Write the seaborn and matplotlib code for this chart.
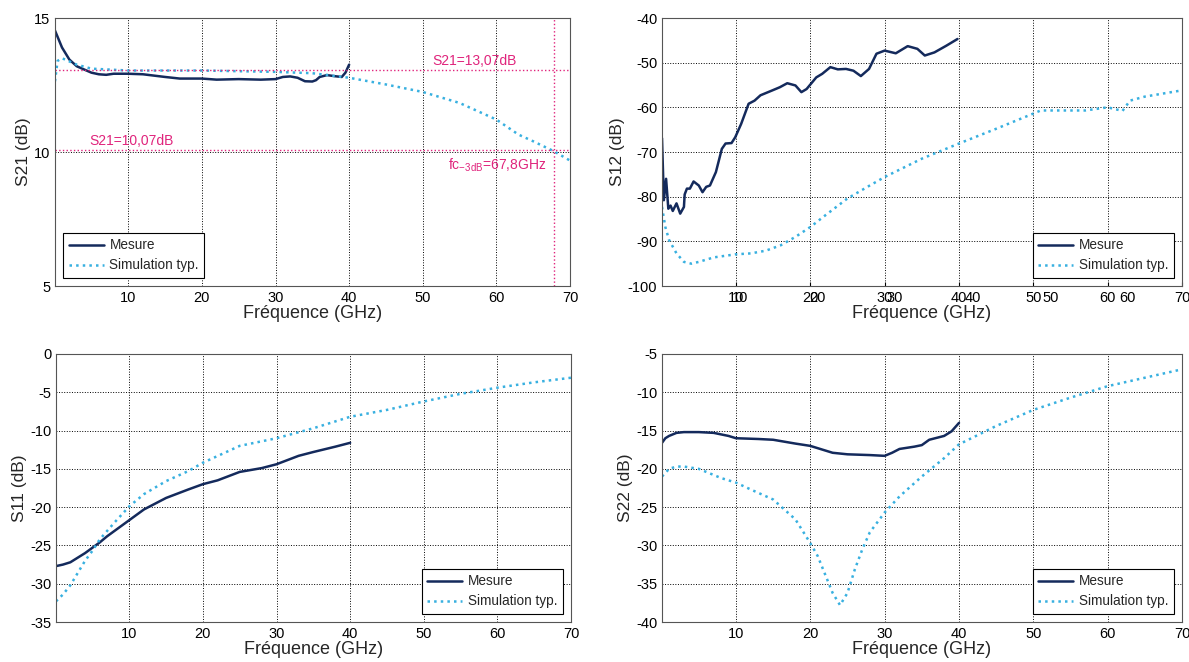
import numpy as np
import pandas as pd
import matplotlib
matplotlib.use("Agg")
import matplotlib.pyplot as plt
import seaborn as sns

# ---- S21 ----
s21_mes_f = [0.05, 1, 2, 3, 4, 5, 6, 7, 8, 10, 12, 15, 17, 20, 22, 25, 28, 30, 31, 32, 33, 34, 35, 35.5, 36, 37, 38, 39, 39.5, 40]
s21_mes_v = [14.53, 13.9, 13.45, 13.2, 13.08, 12.96, 12.9, 12.88, 12.92, 12.92, 12.9, 12.8, 12.74, 12.74, 12.7, 12.72, 12.7, 12.72, 12.8, 12.82, 12.77, 12.64, 12.63, 12.68, 12.8, 12.87, 12.83, 12.8, 12.96, 13.26]
s21_sim_f = [0.05, 0.4, 1, 2, 3, 5, 10, 20, 30, 35, 40, 45, 50, 55, 60, 63, 65, 67.8, 70]
s21_sim_v = [12.64, 13.4, 13.5, 13.38, 13.26, 13.11, 13.04, 13.04, 12.99, 12.94, 12.77, 12.52, 12.24, 11.83, 11.21, 10.65, 10.4, 10.03, 9.68]

# ---- S12 ----
s12_mes_f = [0.05, 0.3, 0.6, 0.9, 1.2, 1.5, 2, 2.5, 3, 3.1, 3.4, 3.8, 4.3, 5, 5.5, 6, 6.5, 7.3, 8.1, 8.6, 9.4, 9.9, 10.7, 11.7, 12.5, 13.3, 14.9, 15.9, 16.9, 18, 18.8, 19.5, 20.8, 21.6, 22.7, 23.7, 24.8, 25.8, 26.8, 27.9, 28.9, 30, 31.5, 33.1, 34.4, 35.4, 36.7, 38.3, 39.8]
s12_mes_v = [-66.9, -80.8, -76, -82.7, -82, -83.2, -81.5, -83.8, -82.3, -79.5, -78.2, -78.2, -76.6, -77.5, -79, -77.8, -77.5, -74.5, -69.3, -68.1, -68, -66.7, -63.7, -59.2, -58.5, -57.3, -56.2, -55.5, -54.6, -55.1, -56.6, -55.9, -53.3, -52.5, -51, -51.5, -51.4, -51.8, -53, -51.4, -48, -47.3, -47.9, -46.3, -46.9, -48.4, -47.7, -46.2, -44.7]
s12_sim_f = [0.05, 0.5, 1, 2, 3, 4, 5, 7, 10, 12, 14, 16, 18, 20, 22, 25, 28, 30, 35, 40, 45, 50, 51, 55, 57, 60, 62, 63, 65, 70]
s12_sim_v = [-82.3, -86.8, -89.7, -92.7, -94.6, -95, -94.6, -93.6, -92.9, -92.7, -92.1, -90.9, -89, -86.8, -84.2, -80.4, -77.5, -75.6, -71.5, -68.1, -64.8, -61.4, -60.7, -60.7, -60.7, -60, -60.8, -58.5, -57.6, -56.2]

# ---- S11 ----
s11_mes_f = [0.05, 1, 2, 3, 4, 5, 6, 7, 8, 10, 12, 13, 15, 18, 20, 22, 25, 28, 30, 33, 35, 38, 40]
s11_mes_v = [-27.7, -27.5, -27.2, -26.6, -26, -25.3, -24.6, -23.8, -23.1, -21.7, -20.3, -19.8, -18.8, -17.7, -17, -16.5, -15.4, -14.9, -14.4, -13.3, -12.8, -12.1, -11.6]
s11_sim_f = [0.05, 1, 2, 3, 4, 5, 6, 8, 10, 12, 15, 18, 20, 25, 30, 35, 40, 45, 50, 55, 60, 65, 70]
s11_sim_v = [-32.3, -31.4, -30.2, -28.6, -27, -25.7, -24.2, -22, -19.9, -18.3, -16.6, -15.3, -14.2, -12, -11, -9.7, -8.2, -7.3, -6.2, -5.2, -4.4, -3.7, -3.1]

# ---- S22 ----
s22_mes_f = [0.05, 0.5, 1, 2, 3, 5, 7, 9, 10, 13, 15, 18, 20, 22, 23, 25, 28, 30, 31, 32, 34, 35, 36, 38, 39, 40]
s22_mes_v = [-16.6, -16, -15.7, -15.3, -15.2, -15.2, -15.3, -15.7, -16, -16.1, -16.2, -16.7, -17, -17.6, -17.9, -18.1, -18.2, -18.3, -17.9, -17.4, -17.1, -16.9, -16.2, -15.7, -15.1, -14]
s22_sim_f = [0.05, 1, 2, 3, 5, 8, 10, 12, 15, 18, 20, 21, 22, 23, 24, 25, 26, 27, 28, 30, 32, 35, 38, 40, 45, 50, 55, 60, 65, 70]
s22_sim_v = [-21, -20, -19.7, -19.7, -20, -21.2, -21.8, -22.7, -24, -26.6, -29.7, -31.4, -33.8, -36.2, -37.8, -36.2, -33.1, -30.5, -28.3, -25.7, -23.6, -21, -18.6, -16.8, -14.4, -12.3, -10.7, -9.2, -8.1, -7]

x_ticks = [10, 20, 30, 40, 50, 60, 70]
labels = ["Mesure", "Simulation typ."]

C_MES = "#142a5c"
C_SIM = "#38b0e0"
C_PINK = "#e0247c"

sns.set_style("white")
plt.rcParams['font.family'] = ['Liberation Sans', 'DejaVu Sans']
plt.rcParams['axes.unicode_minus'] = False

fig = plt.figure(figsize=(11.89, 6.62), dpi=100)
W, H = 1189, 662
def box(l, t, r, b):
    return [l / W, 1 - b / H, (r - l) / W, (b - t) / H]

ax1 = fig.add_axes(box(55, 18, 570, 286))
ax2 = fig.add_axes(box(662, 18, 1182, 286))
ax3 = fig.add_axes(box(56, 354, 571, 622))
ax4 = fig.add_axes(box(662, 354, 1182, 622))

panels = [
    (ax1, s21_mes_f, s21_mes_v, s21_sim_f, s21_sim_v, "S21 (dB)", (5, 15), [5, 10, 15], "lower left"),
    (ax2, s12_mes_f, s12_mes_v, s12_sim_f, s12_sim_v, "S12 (dB)", (-100, -40), list(range(-100, -39, 10)), "lower right"),
    (ax3, s11_mes_f, s11_mes_v, s11_sim_f, s11_sim_v, "S11 (dB)", (-35, 0), list(range(-35, 1, 5)), "lower right"),
    (ax4, s22_mes_f, s22_mes_v, s22_sim_f, s22_sim_v, "S22 (dB)", (-40, -5), list(range(-40, -4, 5)), "lower right"),
]

for ax, mf, mv, sf, sv, ylab, ylim, yt, loc in panels:
    sns.lineplot(x=mf, y=mv, ax=ax, color=C_MES, lw=1.8, label=labels[0])
    sns.lineplot(x=sf, y=sv, ax=ax, color=C_SIM, lw=1.8, linestyle=":", label=labels[1])
    ax.set_xlim(0.05, 70)
    ax.set_ylim(*ylim)
    ax.set_xticks(x_ticks)
    ax.set_yticks(yt)
    ax.grid(True, color="k", linestyle=":", lw=0.7)
    ax.tick_params(direction="in", length=3, labelsize=10.5, colors="k")
    ax.set_xlabel("Fréquence (GHz)", fontsize=13, labelpad=0)
    ax.set_ylabel(ylab, fontsize=12.5, labelpad=2)
    for sp in ax.spines.values():
        sp.set_color("#555555")
        sp.set_linewidth(0.8)
    leg = ax.legend(loc=loc, fontsize=9.8, fancybox=False, framealpha=1,
                    edgecolor="k", handlelength=2.6, borderaxespad=0.6,
                    handletextpad=0.4, labelspacing=0.45)
    leg.get_frame().set_linewidth(0.8)

# annotations on S21
for yv in [13.07, 10.07]:
    ax1.axhline(yv, color=C_PINK, linestyle=":", lw=1)
ax1.axvline(67.8, color=C_PINK, linestyle=":", lw=1)
ax1.text(51.3, 13.25, "S21=13,07dB", color=C_PINK, fontsize=10)
ax1.text(4.7, 10.25, "S21=10,07dB", color=C_PINK, fontsize=10)
ax1.text(53.4, 9.35, r"fc$_{\mathregular{-3dB}}$=67,8GHz", color=C_PINK, fontsize=10)

# S12: second overlapped set of x tick labels
ax2b = ax2.twiny()
ax2b.set_xlim(-0.06, 67.0)
ax2b.set_xticks([10, 20, 30, 40, 50, 60])
ax2b.xaxis.set_ticks_position("bottom")
ax2b.xaxis.set_label_position("bottom")
ax2b.tick_params(length=0, labelsize=10.5, colors="k")
for sp in ax2b.spines.values():
    sp.set_visible(False)

fig.savefig("out.png", dpi=100)
